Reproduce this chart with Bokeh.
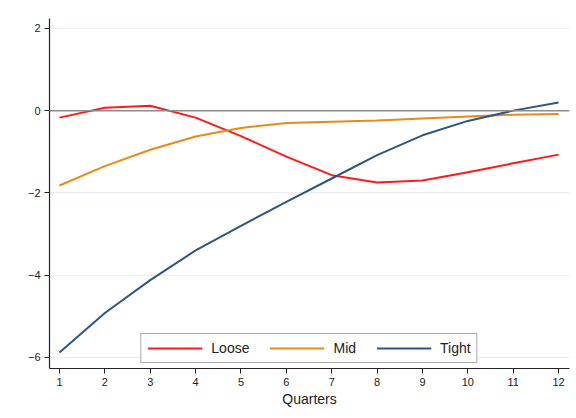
from bokeh.plotting import figure
from bokeh.models import FixedTicker, Range1d, Span, Legend, LegendItem
from bokeh.embed import file_html
from bokeh.resources import INLINE

# Quarter index on the horizontal axis
quarters = list(range(1, 13))

# Response paths by regime
loose = [-0.17, 0.07, 0.12, -0.17, -0.62, -1.12, -1.57, -1.75, -1.70, -1.50, -1.28, -1.07]
mid = [-1.82, -1.35, -0.95, -0.63, -0.42, -0.30, -0.27, -0.24, -0.19, -0.14, -0.10, -0.08]
tight = [-5.88, -4.92, -4.12, -3.40, -2.80, -2.22, -1.65, -1.08, -0.60, -0.25, 0.00, 0.20]

y_ticks = [-6, -4, -2, 0, 2]

FONT = "Liberation Sans"

p = figure(
    width=576, height=418,
    output_backend="svg", toolbar_location=None,
    x_range=Range1d(0.78, 12.24), y_range=Range1d(-6.27, 2.24),
    min_border_left=49, min_border_right=7, min_border_top=18, min_border_bottom=50,
)
p.outline_line_color = None
p.background_fill_color = "white"
p.border_fill_color = "white"

# Axes
for ax in (p.xaxis, p.yaxis):
    ax.axis_line_color = "#222222"
    ax.axis_line_width = 1.2
    ax.major_tick_line_color = "#222222"
    ax.major_tick_in = 0
    ax.major_tick_out = 5
    ax.minor_tick_line_color = None
    ax.major_label_text_font = FONT
    ax.major_label_text_font_size = "11px"
    ax.major_label_text_color = "#222222"

p.xaxis.ticker = FixedTicker(ticks=quarters)
p.xaxis.major_label_standoff = 4
p.xaxis.axis_label = "Quarters"
p.xaxis.axis_label_text_font = FONT
p.xaxis.axis_label_text_font_style = "normal"
p.xaxis.axis_label_text_font_size = "14px"
p.xaxis.axis_label_text_color = "#222222"
p.xaxis.axis_label_standoff = 2

p.yaxis.ticker = FixedTicker(ticks=y_ticks)
p.yaxis.major_label_standoff = 4
p.yaxis.major_label_orientation = "horizontal"

# Grid
p.xgrid.grid_line_color = None
p.ygrid.grid_line_color = "#e8eef4"
p.ygrid.grid_line_width = 1

# Zero reference line
p.add_layout(Span(location=0, dimension="width", line_color="#8c8c8c", line_width=1.5))

r_loose = p.line(quarters, loose, line_color="#ff1a1a", line_width=2)
r_mid = p.line(quarters, mid, line_color="#e8891a", line_width=2)
r_tight = p.line(quarters, tight, line_color="#2c5780", line_width=2)

legend = Legend(
    items=[
        LegendItem(label="Loose", renderers=[r_loose]),
        LegendItem(label="Mid", renderers=[r_mid]),
        LegendItem(label="Tight", renderers=[r_tight]),
    ],
    orientation="horizontal",
    location="bottom_center",
    margin=5,
    padding=6,
    spacing=20,
    label_standoff=9,
    glyph_width=55,
    glyph_height=14,
    label_height=14,
    label_text_font=FONT,
    label_text_font_size="14px",
    label_text_color="#222222",
    border_line_color="#555555",
    border_line_width=1.5,
    background_fill_color="white",
    background_fill_alpha=1.0,
)
p.add_layout(legend, "center")

open("out.html", "w").write(file_html(p, INLINE))
